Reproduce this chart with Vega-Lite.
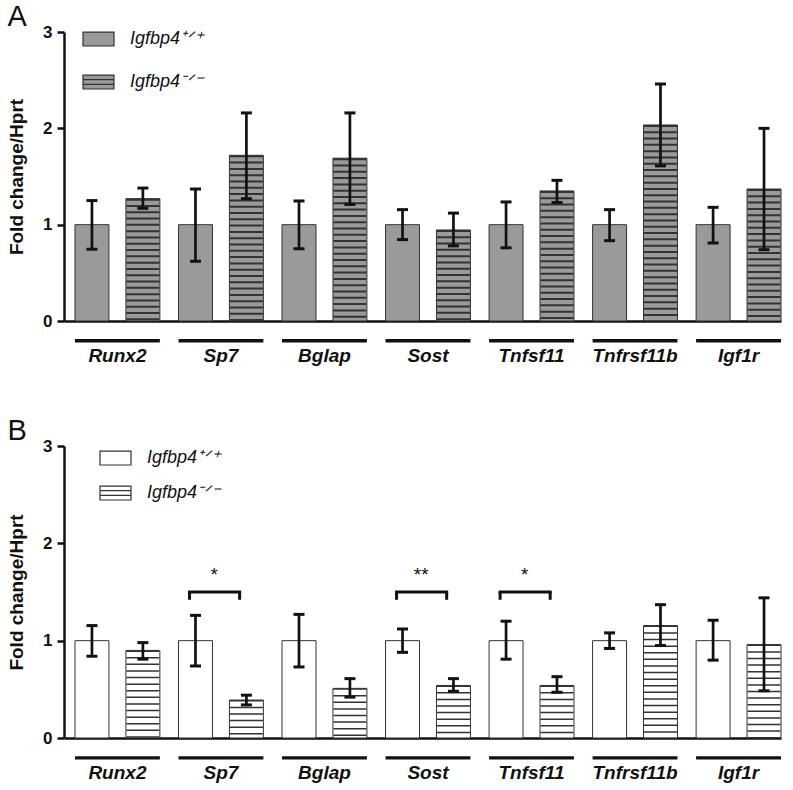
{
  "$schema": "https://vega.github.io/schema/vega-lite/v6.json",
  "padding": {"left": 7, "top": 2, "right": 4, "bottom": 5},
  "background": "white",
  "spacing": 52,
  "datasets": {
    "A": [
      {"gene": "Runx2", "geno": "WT", "mean": 1.0, "lo": 0.745, "hi": 1.25},
      {"gene": "Runx2", "geno": "KO", "mean": 1.27, "lo": 1.17, "hi": 1.38},
      {"gene": "Sp7", "geno": "WT", "mean": 1.0, "lo": 0.62, "hi": 1.37},
      {"gene": "Sp7", "geno": "KO", "mean": 1.72, "lo": 1.27, "hi": 2.16},
      {"gene": "Bglap", "geno": "WT", "mean": 1.0, "lo": 0.75, "hi": 1.246},
      {"gene": "Bglap", "geno": "KO", "mean": 1.69, "lo": 1.21, "hi": 2.16},
      {"gene": "Sost", "geno": "WT", "mean": 1.0, "lo": 0.845, "hi": 1.156},
      {"gene": "Sost", "geno": "KO", "mean": 0.945, "lo": 0.78, "hi": 1.12},
      {"gene": "Tnfsf11", "geno": "WT", "mean": 1.0, "lo": 0.76, "hi": 1.236},
      {"gene": "Tnfsf11", "geno": "KO", "mean": 1.35, "lo": 1.23, "hi": 1.46},
      {"gene": "Tnfrsf11b", "geno": "WT", "mean": 1.0, "lo": 0.834, "hi": 1.156},
      {"gene": "Tnfrsf11b", "geno": "KO", "mean": 2.035, "lo": 1.61, "hi": 2.46},
      {"gene": "Igf1r", "geno": "WT", "mean": 1.0, "lo": 0.81, "hi": 1.18},
      {"gene": "Igf1r", "geno": "KO", "mean": 1.37, "lo": 0.74, "hi": 2.0}
    ],
    "B": [
      {"gene": "Runx2", "geno": "WT", "mean": 1.0, "lo": 0.84, "hi": 1.155},
      {"gene": "Runx2", "geno": "KO", "mean": 0.9, "lo": 0.81, "hi": 0.98},
      {"gene": "Sp7", "geno": "WT", "mean": 1.0, "lo": 0.74, "hi": 1.26},
      {"gene": "Sp7", "geno": "KO", "mean": 0.39, "lo": 0.34, "hi": 0.44},
      {"gene": "Bglap", "geno": "WT", "mean": 1.0, "lo": 0.73, "hi": 1.27},
      {"gene": "Bglap", "geno": "KO", "mean": 0.51, "lo": 0.42, "hi": 0.61},
      {"gene": "Sost", "geno": "WT", "mean": 1.0, "lo": 0.88, "hi": 1.12},
      {"gene": "Sost", "geno": "KO", "mean": 0.54, "lo": 0.48, "hi": 0.61},
      {"gene": "Tnfsf11", "geno": "WT", "mean": 1.0, "lo": 0.81, "hi": 1.2},
      {"gene": "Tnfsf11", "geno": "KO", "mean": 0.54, "lo": 0.47, "hi": 0.63},
      {"gene": "Tnfrsf11b", "geno": "WT", "mean": 1.0, "lo": 0.92, "hi": 1.08},
      {"gene": "Tnfrsf11b", "geno": "KO", "mean": 1.155, "lo": 0.95, "hi": 1.37},
      {"gene": "Igf1r", "geno": "WT", "mean": 1.0, "lo": 0.8, "hi": 1.21},
      {"gene": "Igf1r", "geno": "KO", "mean": 0.96, "lo": 0.485, "hi": 1.44}
    ],
    "sig": [
      {"gene": "Sp7", "star": "*"},
      {"gene": "Sost", "star": "**"},
      {"gene": "Tnfsf11", "star": "*"}
    ]
  },
  "vconcat": [
    {
      "title": {"text": "A", "anchor": "start", "frame": "bounds", "fontSize": 29, "fontWeight": "normal", "font": "Liberation Sans", "color": "#111", "offset": -9},
      "width": 717,
      "height": 289,
      "data": {"name": "A"},
      "layer": [
        {
          "mark": {"type": "bar", "stroke": "#333", "strokeWidth": 1},
          "encoding": {
            "x": {"field": "gene", "type": "nominal", "sort": ["Runx2", "Sp7", "Bglap", "Sost", "Tnfsf11", "Tnfrsf11b", "Igf1r"], "scale": {"paddingInner": 0.18, "paddingOuter": 0.053, "align": 1}, "axis": {"title": null}},
            "xOffset": {"field": "geno", "type": "nominal", "sort": ["WT", "KO"], "scale": {"paddingInner": 0.333, "paddingOuter": 0}},
            "y": {"field": "mean", "type": "quantitative", "scale": {"domain": [0, 3], "nice": false}, "axis": {"values": [0, 1, 2, 3], "format": "d", "title": "Fold change/Hprt"}},
            "fill": {"field": "geno", "type": "nominal", "sort": ["WT", "KO"], "scale": {"domain": ["WT", "KO"], "range": ["#9a9a9a", "#9a9a9a"]},
              "legend": {"orient": "none", "legendX": 18, "legendY": -9.5, "title": null, "symbolSize": 961, "symbolStrokeColor": "#333", "symbolStrokeWidth": 1.2, "symbolOpacity": 1, "rowPadding": 17, "labelOffset": 15, "labelFont": "Liberation Sans", "labelFontStyle": "italic", "labelFontSize": 18, "labelColor": "#111", "padding": 0, "labelExpr": "datum.value == 'WT' ? 'Igfbp4⁺ᐟ⁺' : 'Igfbp4⁻ᐟ⁻'"}}
          }
        },
        {
          "mark": {"type": "point", "filled": true, "size": 10, "opacity": 1},
          "encoding": {
            "x": {"field": "gene", "type": "nominal", "sort": ["Runx2", "Sp7", "Bglap", "Sost", "Tnfsf11", "Tnfrsf11b", "Igf1r"]},
            "xOffset": {"field": "geno", "type": "nominal", "sort": ["WT", "KO"]},
            "y": {"datum": 0.3},
            "fill": {"field": "geno", "type": "nominal", "sort": ["WT", "KO"]},
            "shape": {"field": "geno", "type": "nominal", "sort": ["WT", "KO"], "scale": {"domain": ["WT", "KO"], "range": ["M-1,-0.45H1V0.45H-1Z", "M-1,-0.45H1V0.45H-1Z M-1,-0.15H1 M-1,0.15H1"]},
              "legend": {"orient": "none", "legendX": 18, "legendY": -9.5, "title": null, "symbolSize": 961, "symbolStrokeColor": "#333", "symbolStrokeWidth": 1.2, "symbolOpacity": 1, "rowPadding": 17, "labelOffset": 15, "labelFont": "Liberation Sans", "labelFontStyle": "italic", "labelFontSize": 18, "labelColor": "#111", "padding": 0, "labelExpr": "datum.value == 'WT' ? 'Igfbp4⁺ᐟ⁺' : 'Igfbp4⁻ᐟ⁻'"}}
          }
        },
        {
          "transform": [{"filter": "datum.geno == 'KO'"}],
          "mark": {"type": "rule", "strokeWidth": 33, "strokeDash": [2, 4.3], "color": "#333", "strokeCap": "butt"},
          "encoding": {
            "x": {"field": "gene", "type": "nominal", "sort": ["Runx2", "Sp7", "Bglap", "Sost", "Tnfsf11", "Tnfrsf11b", "Igf1r"]},
            "xOffset": {"field": "geno", "type": "nominal", "sort": ["WT", "KO"]},
            "y": {"field": "mean", "type": "quantitative"},
            "y2": {"datum": 0}
          }
        },
        {
          "mark": {"type": "rule", "strokeWidth": 2.7, "color": "#111"},
          "encoding": {
            "x": {"field": "gene", "type": "nominal", "sort": ["Runx2", "Sp7", "Bglap", "Sost", "Tnfsf11", "Tnfrsf11b", "Igf1r"]},
            "xOffset": {"field": "geno", "type": "nominal", "sort": ["WT", "KO"]},
            "y": {"field": "lo", "type": "quantitative"},
            "y2": {"field": "hi"}
          }
        },
        {
          "mark": {"type": "tick", "size": 11, "thickness": 3, "color": "#111", "opacity": 1},
          "encoding": {
            "x": {"field": "gene", "type": "nominal", "sort": ["Runx2", "Sp7", "Bglap", "Sost", "Tnfsf11", "Tnfrsf11b", "Igf1r"]},
            "xOffset": {"field": "geno", "type": "nominal", "sort": ["WT", "KO"]},
            "y": {"field": "hi", "type": "quantitative"}
          }
        },
        {
          "mark": {"type": "tick", "size": 11, "thickness": 3, "color": "#111", "opacity": 1},
          "encoding": {
            "x": {"field": "gene", "type": "nominal", "sort": ["Runx2", "Sp7", "Bglap", "Sost", "Tnfsf11", "Tnfrsf11b", "Igf1r"]},
            "xOffset": {"field": "geno", "type": "nominal", "sort": ["WT", "KO"]},
            "y": {"field": "lo", "type": "quantitative"}
          }
        },
        {
          "transform": [{"filter": "datum.geno == 'WT'"}],
          "mark": {"type": "bar", "color": "#111"},
          "encoding": {
            "x": {"field": "gene", "type": "nominal", "sort": ["Runx2", "Sp7", "Bglap", "Sost", "Tnfsf11", "Tnfrsf11b", "Igf1r"]},
            "y": {"datum": -0.187},
            "y2": {"datum": -0.222}
          }
        }
      ]
    },
    {
      "title": {"text": "B", "anchor": "start", "frame": "bounds", "fontSize": 29, "fontWeight": "normal", "font": "Liberation Sans", "color": "#111", "offset": -9},
      "width": 717,
      "height": 292,
      "data": {"name": "B"},
      "layer": [
        {
          "mark": {"type": "bar", "stroke": "#333", "strokeWidth": 1},
          "encoding": {
            "x": {"field": "gene", "type": "nominal", "sort": ["Runx2", "Sp7", "Bglap", "Sost", "Tnfsf11", "Tnfrsf11b", "Igf1r"], "scale": {"paddingInner": 0.18, "paddingOuter": 0.053, "align": 1}, "axis": {"title": null}},
            "xOffset": {"field": "geno", "type": "nominal", "sort": ["WT", "KO"], "scale": {"paddingInner": 0.333, "paddingOuter": 0}},
            "y": {"field": "mean", "type": "quantitative", "scale": {"domain": [0, 3], "nice": false}, "axis": {"values": [0, 1, 2, 3], "format": "d", "title": "Fold change/Hprt"}},
            "fill": {"field": "geno", "type": "nominal", "sort": ["WT", "KO"], "scale": {"domain": ["WT", "KO"], "range": ["#ffffff", "#ffffff"]},
              "legend": {"orient": "none", "legendX": 35, "legendY": -4.5, "title": null, "symbolSize": 961, "symbolStrokeColor": "#333", "symbolStrokeWidth": 1.2, "symbolOpacity": 1, "rowPadding": 9, "labelOffset": 15, "labelFont": "Liberation Sans", "labelFontStyle": "italic", "labelFontSize": 18, "labelColor": "#111", "padding": 0, "labelExpr": "datum.value == 'WT' ? 'Igfbp4⁺ᐟ⁺' : 'Igfbp4⁻ᐟ⁻'"}}
          }
        },
        {
          "mark": {"type": "point", "filled": true, "size": 10, "opacity": 1},
          "encoding": {
            "x": {"field": "gene", "type": "nominal", "sort": ["Runx2", "Sp7", "Bglap", "Sost", "Tnfsf11", "Tnfrsf11b", "Igf1r"]},
            "xOffset": {"field": "geno", "type": "nominal", "sort": ["WT", "KO"]},
            "y": {"datum": 0.3},
            "fill": {"field": "geno", "type": "nominal", "sort": ["WT", "KO"]},
            "shape": {"field": "geno", "type": "nominal", "sort": ["WT", "KO"], "scale": {"domain": ["WT", "KO"], "range": ["M-1,-0.45H1V0.45H-1Z", "M-1,-0.45H1V0.45H-1Z M-1,-0.15H1 M-1,0.15H1"]},
              "legend": {"orient": "none", "legendX": 35, "legendY": -4.5, "title": null, "symbolSize": 961, "symbolStrokeColor": "#333", "symbolStrokeWidth": 1.2, "symbolOpacity": 1, "rowPadding": 9, "labelOffset": 15, "labelFont": "Liberation Sans", "labelFontStyle": "italic", "labelFontSize": 18, "labelColor": "#111", "padding": 0, "labelExpr": "datum.value == 'WT' ? 'Igfbp4⁺ᐟ⁺' : 'Igfbp4⁻ᐟ⁻'"}}
          }
        },
        {
          "transform": [{"filter": "datum.geno == 'KO'"}],
          "mark": {"type": "rule", "strokeWidth": 33, "strokeDash": [1.5, 5.1], "color": "#333", "strokeCap": "butt"},
          "encoding": {
            "x": {"field": "gene", "type": "nominal", "sort": ["Runx2", "Sp7", "Bglap", "Sost", "Tnfsf11", "Tnfrsf11b", "Igf1r"]},
            "xOffset": {"field": "geno", "type": "nominal", "sort": ["WT", "KO"]},
            "y": {"field": "mean", "type": "quantitative"},
            "y2": {"datum": 0}
          }
        },
        {
          "mark": {"type": "rule", "strokeWidth": 2.7, "color": "#111"},
          "encoding": {
            "x": {"field": "gene", "type": "nominal", "sort": ["Runx2", "Sp7", "Bglap", "Sost", "Tnfsf11", "Tnfrsf11b", "Igf1r"]},
            "xOffset": {"field": "geno", "type": "nominal", "sort": ["WT", "KO"]},
            "y": {"field": "lo", "type": "quantitative"},
            "y2": {"field": "hi"}
          }
        },
        {
          "mark": {"type": "tick", "size": 11, "thickness": 3, "color": "#111", "opacity": 1},
          "encoding": {
            "x": {"field": "gene", "type": "nominal", "sort": ["Runx2", "Sp7", "Bglap", "Sost", "Tnfsf11", "Tnfrsf11b", "Igf1r"]},
            "xOffset": {"field": "geno", "type": "nominal", "sort": ["WT", "KO"]},
            "y": {"field": "hi", "type": "quantitative"}
          }
        },
        {
          "mark": {"type": "tick", "size": 11, "thickness": 3, "color": "#111", "opacity": 1},
          "encoding": {
            "x": {"field": "gene", "type": "nominal", "sort": ["Runx2", "Sp7", "Bglap", "Sost", "Tnfsf11", "Tnfrsf11b", "Igf1r"]},
            "xOffset": {"field": "geno", "type": "nominal", "sort": ["WT", "KO"]},
            "y": {"field": "lo", "type": "quantitative"}
          }
        },
        {
          "transform": [{"filter": "datum.geno == 'WT'"}],
          "mark": {"type": "bar", "color": "#111"},
          "encoding": {
            "x": {"field": "gene", "type": "nominal", "sort": ["Runx2", "Sp7", "Bglap", "Sost", "Tnfsf11", "Tnfrsf11b", "Igf1r"]},
            "y": {"datum": -0.187},
            "y2": {"datum": -0.222}
          }
        },
        {
          "data": {"name": "sig"},
          "mark": {"type": "rule", "strokeWidth": 3, "color": "#111", "strokeCap": "square"},
          "encoding": {
            "x": {"field": "gene", "type": "nominal", "sort": ["Runx2", "Sp7", "Bglap", "Sost", "Tnfsf11", "Tnfrsf11b", "Igf1r"], "bandPosition": 0.13},
            "x2": {"field": "gene", "bandPosition": 0.72},
            "y": {"datum": 1.5}
          }
        },
        {
          "data": {"name": "sig"},
          "mark": {"type": "rule", "strokeWidth": 3, "color": "#111"},
          "encoding": {
            "x": {"field": "gene", "type": "nominal", "sort": ["Runx2", "Sp7", "Bglap", "Sost", "Tnfsf11", "Tnfrsf11b", "Igf1r"], "bandPosition": 0.13},
            "y": {"datum": 1.5},
            "y2": {"datum": 1.42}
          }
        },
        {
          "data": {"name": "sig"},
          "mark": {"type": "rule", "strokeWidth": 3, "color": "#111"},
          "encoding": {
            "x": {"field": "gene", "type": "nominal", "sort": ["Runx2", "Sp7", "Bglap", "Sost", "Tnfsf11", "Tnfrsf11b", "Igf1r"], "bandPosition": 0.72},
            "y": {"datum": 1.5},
            "y2": {"datum": 1.42}
          }
        },
        {
          "data": {"name": "sig"},
          "mark": {"type": "text", "font": "Liberation Sans", "fontSize": 19, "color": "#111", "baseline": "middle"},
          "encoding": {
            "x": {"field": "gene", "type": "nominal", "sort": ["Runx2", "Sp7", "Bglap", "Sost", "Tnfsf11", "Tnfrsf11b", "Igf1r"], "bandPosition": 0.42},
            "y": {"datum": 1.67},
            "text": {"field": "star"}
          }
        }
      ]
    }
  ],
  "resolve": {"scale": {"fill": "independent", "shape": "independent"}},
  "config": {
    "view": {"stroke": null},
    "axis": {"domainColor": "#111", "domainWidth": 2.5, "tickColor": "#111", "tickWidth": 2.5, "tickSize": 7, "labelFont": "Liberation Sans", "labelFontWeight": "bold", "labelFontSize": 17, "labelColor": "#111", "titleFont": "Liberation Sans", "titleFontWeight": "bold", "titleFontSize": 19, "titleColor": "#111", "grid": false},
    "axisX": {"ticks": false, "labelFontStyle": "italic", "labelFontSize": 19, "labelPadding": 25, "labelAngle": 0},
    "axisY": {"labelPadding": 5, "titlePadding": 16}
  }
}
